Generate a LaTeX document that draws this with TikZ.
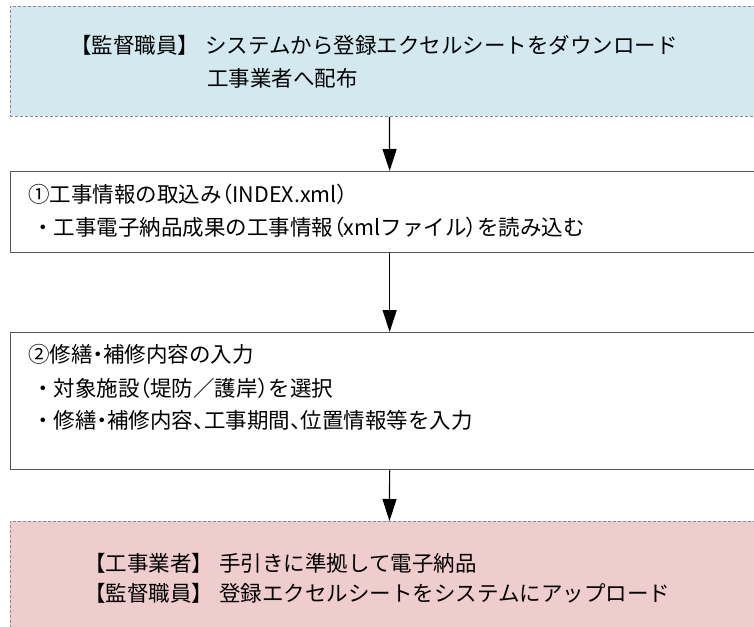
\documentclass[tikz,border=0pt]{standalone}
\usepackage{fontspec}
\newfontfamily\jp{Noto Sans CJK JP}
\newfontfamily\jpp[RawFeature=+palt]{Noto Sans CJK JP}
\usetikzlibrary{arrows.meta}
\definecolor{bluefill}{HTML}{D3E9EF}
\definecolor{pinkfill}{HTML}{EECDCC}
\definecolor{boxline}{HTML}{555555}
\definecolor{dashline}{HTML}{8A8A8A}
\newcommand{\pk}[1]{{\jpp #1}}
\tikzset{
  dashbox/.style={draw=dashline, line width=0.9pt, dash pattern=on 3pt off 2pt, anchor=north west, inner sep=0pt},
  solidbox/.style={draw=boxline, line width=1.3pt, fill=white, anchor=north west, inner sep=0pt},
  txt/.style={font=\jp\fontsize{21.5}{26}\selectfont, anchor=west, inner sep=0pt, text=black},
  arr/.style={draw=black, line width=1.2pt, -{Triangle[width=14pt,length=22pt]}}
}
\begin{document}
\begin{tikzpicture}[x=1pt,y=-1pt]
\useasboundingbox (0,0) rectangle (754,626);
\clip (0,0) rectangle (754,626);
\fill[white] (0,0) rectangle (754,626);
% boxes
\node[dashbox, fill=bluefill, minimum width=758pt, minimum height=110pt] (b1) at (10,6) {};
\node[solidbox, minimum width=758pt, minimum height=81pt] (b2) at (10,171) {};
\node[solidbox, minimum width=758pt, minimum height=137pt] (b3) at (10,332) {};
\node[dashbox, fill=pinkfill, minimum width=758pt, minimum height=130pt] (b4) at (10,521) {};
% texts
\node[txt] (t1a) at (70,45) {【監督職員】\hspace{6pt}システムから登録エクセルシートをダウンロード};
\node[txt] (t1b) at (207,78) {工事業者へ配布};
\node[txt] (t2a) at (28,194) {①工事情報の取込み\pk{（}INDEX.xml\pk{）}};
\node[txt] (t2b) at (32,227) {・工事電子納品成果の工事情報\pk{（}xmlファイル\pk{）}を読み込む};
\node[txt] (t3a) at (28,354) {②修繕\pk{・}補修内容の入力};
\node[txt] (t3b) at (32,388) {・対象施設\pk{（}堤防／護岸\pk{）}を選択};
\node[txt] (t3c) at (32,420) {・修繕\pk{・}補修内容\pk{、}工事期間\pk{、}位置情報等を入力};
\node[txt] (t4a) at (84,563) {【工事業者】\hspace{6pt}手引きに準拠して電子納品};
\node[txt] (t4b) at (84,593) {【監督職員】\hspace{6pt}登録エクセルシートをシステムにアップロード};
% arrows
\draw[arr] (b1.south) -- (b2.north);
\draw[arr] (b2.south) -- (b3.north);
\draw[arr] (b3.south) -- (b4.north);
\end{tikzpicture}
\end{document}
